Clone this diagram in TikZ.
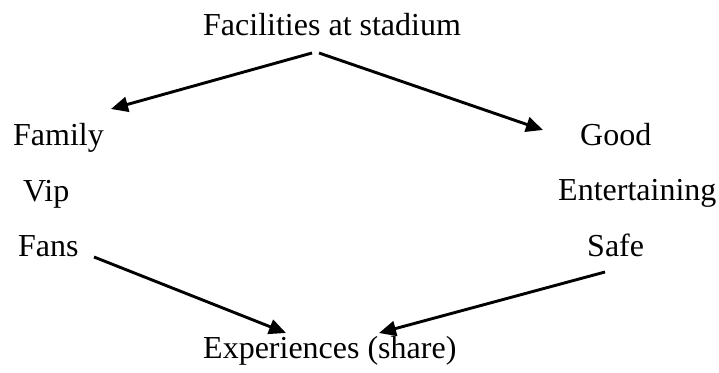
\documentclass[tikz,border=0pt]{standalone}
\usepackage{fontspec}
\setmainfont{Liberation Serif}
\usetikzlibrary{arrows.meta}

\begin{document}
\begin{tikzpicture}[x=1pt, y=1pt,
    lbl/.style={inner sep=0pt, anchor=base west, font=\fontsize{32}{38}\selectfont},
    arr/.style={line width=2.9pt, -{Triangle[length=17pt, width=15pt]}}]
      % page frame
      \useasboundingbox (0,0) rectangle (719,372);

      % Top label
      \node[lbl] (top) at (203,336) {Facilities at stadium};

      % Left column
      \node[lbl] (family) at (13,226) {Family};
      \node[lbl] (vip) at (23,170) {Vip};
      \node[lbl] (fans) at (18,115) {Fans};

      % Right column
      \node[lbl] (good) at (580,226) {Good};
      \node[lbl] (ent) at (558,171) {Entertaining};
      \node[lbl] (safe) at (587,115) {Safe};

      % Bottom label
      \node[lbl] (exp) at (203,14) {Experiences (share)};

      % Arrows
      \draw[arr] ([shift={(109,-17)}]top.base west) -- ([shift={(98,37)}]family.base west);
      \draw[arr] ([shift={(116,-17)}]top.base west) -- ([shift={(-37,16)}]good.base west);
      \draw[arr] ([shift={(76,0)}]fans.base west) -- ([shift={(83,25)}]exp.base west);
      \draw[arr] ([shift={(18,-15)}]safe.base west) -- ([shift={(176,25)}]exp.base west);
    \end{tikzpicture}
\end{document}
